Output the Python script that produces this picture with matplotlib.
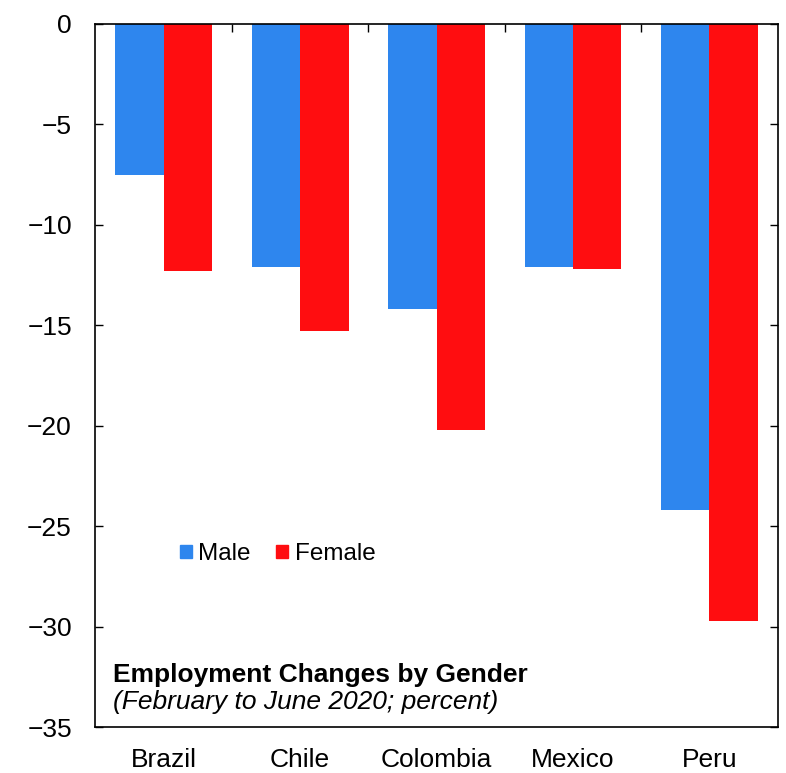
import matplotlib
matplotlib.use("Agg")
import matplotlib.pyplot as plt
import numpy as np
from matplotlib.patches import Patch

countries = ["Brazil", "Chile", "Colombia", "Mexico", "Peru"]
male = [-7.5, -12.1, -14.2, -12.1, -24.2]
female = [-12.3, -15.3, -20.2, -12.2, -29.7]
yticks = [0, -5, -10, -15, -20, -25, -30, -35]

plt.rcParams['font.family'] = ['Liberation Sans', 'DejaVu Sans']

blue = "#2E86EE"
red = "#FF0D10"

fig = plt.figure(figsize=(7.86, 7.73), dpi=100)
ax = fig.add_axes([0.1215, 0.0595, 0.9894 - 0.1215, 0.969 - 0.0595])

x = np.arange(len(countries))
w = 0.355
ax.bar(x - w / 2, male, width=w, color=blue, label="Male")
ax.bar(x + w / 2, female, width=w, color=red, label="Female")

ax.set_xlim(-0.5, len(countries) - 0.5)
ax.set_ylim(-35, 0)
ax.set_yticks(yticks)
ax.set_yticklabels([("\u2212" + str(-v)) if v < 0 else str(v) for v in yticks])
ax.set_xticks(x)
ax.set_xticklabels(countries)
ax.set_xticks(x[:-1] + 0.5, minor=True)

ax.tick_params(axis='x', which='major', bottom=False, length=0, pad=15, labelsize=19)
ax.tick_params(axis='x', which='minor', top=True, bottom=False, direction='in', length=6, width=1)
ax.tick_params(axis='y', which='major', direction='in', left=True, right=True, length=6, width=1,
               pad=17, labelsize=19)

for s in ax.spines.values():
    s.set_linewidth(1.2)
    s.set_color("black")

handles = [Patch(color=blue, label="Male"), Patch(color=red, label="Female")]
ax.legend(handles=handles, loc='center left', bbox_to_anchor=(0.124, 0.246), ncol=2,
          frameon=False, fontsize=17.5, handlelength=0.5, handleheight=0.5,
          handletextpad=0.25, columnspacing=1.05, borderpad=0, borderaxespad=0)

ax.text(0.026, 0.064, "Employment Changes by Gender", transform=ax.transAxes,
        fontsize=19, fontweight='bold', ha='left', va='baseline')
ax.text(0.026, 0.025, "(February to June 2020; percent)", transform=ax.transAxes,
        fontsize=19, fontstyle='italic', ha='left', va='baseline')

fig.savefig("out.png", dpi=100)
